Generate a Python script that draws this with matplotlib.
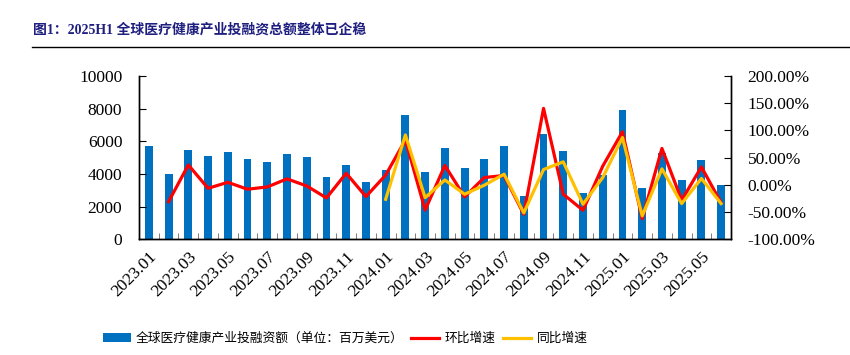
import numpy as np
import matplotlib.pyplot as plt
from matplotlib.ticker import FuncFormatter

plt.rcParams['font.family'] = ['Liberation Serif', 'Noto Sans CJK SC']

months = ['2023.01', '2023.02', '2023.03', '2023.04', '2023.05', '2023.06',
          '2023.07', '2023.08', '2023.09', '2023.10', '2023.11', '2023.12',
          '2024.01', '2024.02', '2024.03', '2024.04', '2024.05', '2024.06',
          '2024.07', '2024.08', '2024.09', '2024.10', '2024.11', '2024.12',
          '2025.01', '2025.02', '2025.03', '2025.04', '2025.05', '2025.06']

# 全球医疗健康产业投融资额 (百万美元)
funding = [5700, 3980, 5470, 5080, 5350, 4940, 4730, 5240, 5040, 3800,
           4570, 3530, 4240, 7590, 4120, 5580, 4340, 4930, 5710, 2640,
           6440, 5380, 2840, 3950, 7890, 3170, 5270, 3620, 4860, 3300]

# 环比增速 (%)
mom = [np.nan, -30.8, 36.6, -6.3, 4.7, -8.0, -3.8, 11.0, -2.0, -24.0,
       21.3, -21.6, 18.0, 82.5, -46.3, 35.6, -22.0, 13.5, 17.2, -54.0,
       140.5, -17.2, -46.6, 34.4, 97.5, -62.0, 66.9, -28.2, 33.0, -33.0]

# 同比增速 (%)
yoy = [np.nan] * 12 + [-26.5, 91.7, -23.5, 9.0, -17.2, -0.6, 19.6, -51.5,
                       28.2, 42.3, -35.5, 13.5, 87.0, -57.0, 29.4, -34.4,
                       11.7, -34.4]

x = np.arange(len(months))

fig = plt.figure(figsize=(8.5, 3.55), dpi=100)
ax = fig.add_axes([139 / 850, 1 - 239.3 / 355, 592 / 850, 163.3 / 355])
ax2 = ax.twinx()

bars = ax.bar(x, funding, width=0.4, color='#0070C0')
l1, = ax2.plot(x, mom, color='#FF0000', lw=2.3, solid_joinstyle='round')
l2, = ax2.plot(x, yoy, color='#FFC000', lw=2.3, solid_joinstyle='round')

ax.set_xlim(-0.5, len(months) - 0.5)
ax.set_ylim(0, 10000)
ax.set_yticks(range(0, 10001, 2000))
ax2.set_ylim(-100, 200)
ax2.set_yticks(range(-100, 201, 50))
ax2.yaxis.set_major_formatter(FuncFormatter(lambda v, p: f'{v:.2f}%'))

ax.set_xticks(x[::2])
ax.set_xticklabels(months[::2], rotation=45, ha='right', va='top',
                   rotation_mode='anchor')
ax.set_xticks(x[:-1] + 0.5, minor=True)
ax.tick_params(axis='x', which='major', length=0, pad=7, labelsize=12.5)
ax.tick_params(axis='x', which='minor', direction='in', length=4, color='#666666')
ax.tick_params(axis='y', direction='in', length=5, pad=12, labelsize=12.5)
ax2.tick_params(axis='y', direction='in', length=5, pad=12, labelsize=12.5)

for a in (ax, ax2):
    a.spines['top'].set_visible(False)
    for s in ('left', 'right', 'bottom'):
        a.spines[s].set_linewidth(1)

fig.text(33 / 850, 1 - 30 / 355, '图1：2025H1 全球医疗健康产业投融资总额整体已企稳',
         fontsize=10, fontweight='bold', color='#1F1F80', va='center', ha='left')
fig.add_artist(plt.Line2D([32 / 850, 1], [1 - 47.3 / 355] * 2, color='black', lw=1))

leg = fig.legend([bars, l1, l2],
                 ['全球医疗健康产业投融资额（单位：百万美元）', '环比增速', '同比增速'],
                 loc='center', bbox_to_anchor=(0.406, 1 - 338.5 / 355), ncol=3,
                 frameon=False, prop={'family': ['Noto Sans CJK SC'], 'size': 9.2},
                 handlelength=2.2, handleheight=0.7, handletextpad=0.4,
                 columnspacing=0.6)

fig.savefig('out.png', dpi=100)
